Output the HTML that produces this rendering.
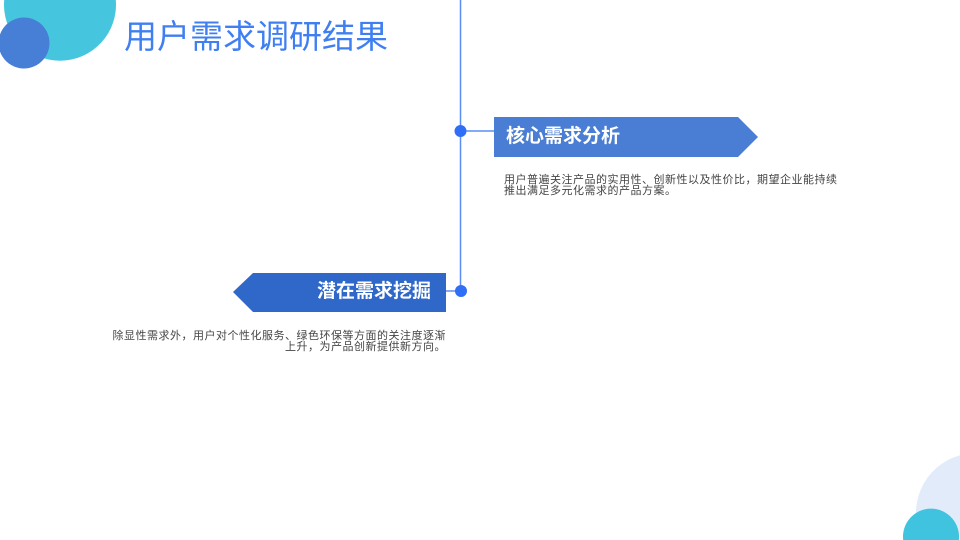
<!DOCTYPE html>
<html><head><meta charset="utf-8"><style>
html,body{margin:0;width:960px;height:540px;overflow:hidden}
body{position:relative;background:#fff;font-family:"Liberation Sans","Noto Sans CJK SC",sans-serif}
.a{position:absolute}
</style></head><body>
<svg class="a" style="left:0;top:0" width="960" height="540">
<path d="M4.2,0 A56,56 0 1 0 115.8,0 Z" fill="#45c6de"/>
<path d="M0,34.4 A25.5,25.5 0 1 1 0,51.6 Z" fill="#477ed6"/>
<path d="M960,455.2 A60,60 0 0 0 922.4,540 L960,540 Z" fill="#e1ebfa"/>
<path d="M903.2,540 A28,28 0 1 1 958.8,540 Z" fill="#40c3de"/>
<line x1="460.5" y1="0" x2="460.5" y2="291" stroke="#5a8ef5" stroke-width="1.5"/>
<line x1="460" y1="131" x2="494" y2="131" stroke="#5a8ef5" stroke-width="1.5"/>
<line x1="446" y1="291" x2="461" y2="291" stroke="#5a8ef5" stroke-width="1.5"/>
<circle cx="460.5" cy="131" r="6" fill="#2f6ef5"/>
<circle cx="461" cy="291" r="6" fill="#2f6ef5"/>
<polygon points="494,117 738,117 758,137 738,157 494,157" fill="#4a7ed4"/>
<polygon points="253,273 446,273 446,312 253,312 233,292" fill="#2f68c8"/>
</svg>
<div class="a" style="left:124px;top:16px;font-size:33px;color:#3f7ff2;line-height:42px">用户需求调研结果</div>
<div class="a" style="left:506px;top:125px;font-size:19px;font-weight:bold;color:#fff;line-height:24px">核心需求分析</div>
<div class="a" style="left:233px;top:280px;width:198px;text-align:right;font-size:19px;font-weight:bold;color:#fff;line-height:24px">潜在需求挖掘</div>
<div class="a" style="left:504px;top:175px;font-size:11px;letter-spacing:0.5px;color:#444;line-height:11px;width:360px;white-space:nowrap">用户普遍关注产品的实用性、创新性以及性价比，期望企业能持续<br>推出满足多元化需求的产品方案。</div>
<div class="a" style="left:60px;top:331px;width:386px;text-align:right;font-size:11px;letter-spacing:0.5px;color:#444;line-height:11px;white-space:nowrap">除显性需求外，用户对个性化服务、绿色环保等方面的关注度逐渐<br>上升，为产品创新提供新方向。</div>
</body></html>
